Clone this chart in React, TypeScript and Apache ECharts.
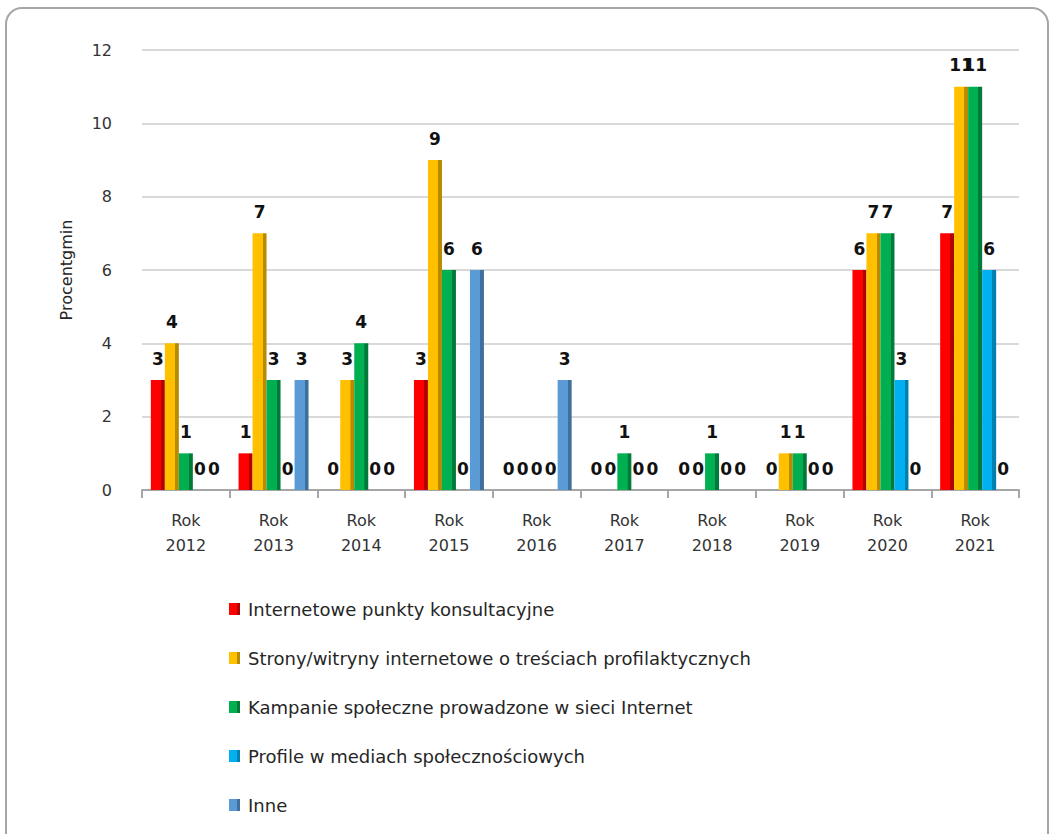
import React, { useEffect, useRef } from "react";
import * as echarts from "echarts";

const categories = ["Rok\n2012", "Rok\n2013", "Rok\n2014", "Rok\n2015", "Rok\n2016", "Rok\n2017", "Rok\n2018", "Rok\n2019", "Rok\n2020", "Rok\n2021"];
const seriesNames = [
  "Internetowe punkty konsultacyjne",
  "Strony/witryny internetowe o treściach profilaktycznych",
  "Kampanie społeczne prowadzone w sieci Internet",
  "Profile w mediach społecznościowych",
  "Inne",
];
const punkty = [3, 1, 0, 3, 0, 0, 0, 0, 6, 7];
const strony = [4, 7, 3, 9, 0, 0, 0, 1, 7, 11];
const kampanie = [1, 3, 4, 6, 0, 1, 1, 1, 7, 11];
const profile = [0, 0, 0, 0, 0, 0, 0, 0, 3, 6];
const inne = [0, 3, 0, 6, 3, 0, 0, 0, 0, 0];
const colors = ["#FF0000", "#FFC000", "#00B050", "#00B0F0", "#5B9BD5"];
const darkColors = ["#B00000", "#B88A00", "#007A3A", "#0080B0", "#3E6F9E"];
const yTicks = { min: 0, max: 12, interval: 2 };

export default function App() {
  const ref = useRef<HTMLDivElement>(null);
  useEffect(() => {
    if (!ref.current) return;
    const chart = echarts.init(ref.current, undefined, { renderer: "svg" });
    const data = [punkty, strony, kampanie, profile, inne];
    const font = "'DejaVu Sans', 'Open Sans', sans-serif";
    chart.setOption({
      animation: false,
      backgroundColor: "#ffffff",
      graphic: [
        {
          type: "rect",
          shape: { x: 6, y: 8, width: 1042, height: 850, r: 16 },
          style: { fill: "none", stroke: "#a6a6a6", lineWidth: 2 },
          silent: true,
        },
      ],
      legend: {
        orient: "vertical",
        left: 224,
        top: 595,
        itemGap: 31,
        itemWidth: 11,
        itemHeight: 12,
        icon: "rect",
        textStyle: { fontFamily: font, fontSize: 18, color: "#262626", padding: [0, 0, 0, 3] },
        data: seriesNames,
      },
      grid: { left: 142, right: 34, top: 50, bottom: 344 },
      xAxis: {
        type: "category",
        data: categories,
        axisLine: { lineStyle: { color: "#a6a6a6", width: 2 } },
        axisTick: { show: true, alignWithLabel: false, length: 8, lineStyle: { color: "#a6a6a6", width: 2 } },
        axisLabel: { fontFamily: font, fontSize: 16, color: "#333", lineHeight: 25, margin: 18 },
      },
      yAxis: {
        type: "value",
        min: yTicks.min,
        max: yTicks.max,
        interval: yTicks.interval,
        name: "Procentgmin",
        nameLocation: "middle",
        nameGap: 68,
        nameRotate: 90,
        nameTextStyle: { fontFamily: font, fontSize: 16, color: "#262626" },
        axisLine: { show: false },
        axisTick: { show: false },
        axisLabel: { fontFamily: font, fontSize: 16, color: "#333", margin: 30 },
        splitLine: { lineStyle: { color: "#d9d9d9", width: 2 } },
      },
      series: data.map((vals, i) => ({
        name: seriesNames[i],
        type: "bar",
        data: vals,
        barWidth: 14,
        barGap: "0%",
        itemStyle: {
          color: {
            type: "linear",
            x: 0, y: 0, x2: 1, y2: 0,
            colorStops: [
              { offset: 0, color: colors[i] },
              { offset: 0.72, color: colors[i] },
              { offset: 0.74, color: darkColors[i] },
              { offset: 1, color: darkColors[i] },
            ],
          },
        },
        label: {
          show: true,
          position: "top",
          distance: 13,
          fontFamily: font,
          fontSize: 17,
          fontWeight: "bold",
          color: "#111",
        },
      })),
    });
    return () => chart.dispose();
  }, []);
  return (
    <div
      ref={ref}
      style={{ position: "fixed", left: 0, top: 0, width: 1053, height: 834 }}
    />
  );
}
